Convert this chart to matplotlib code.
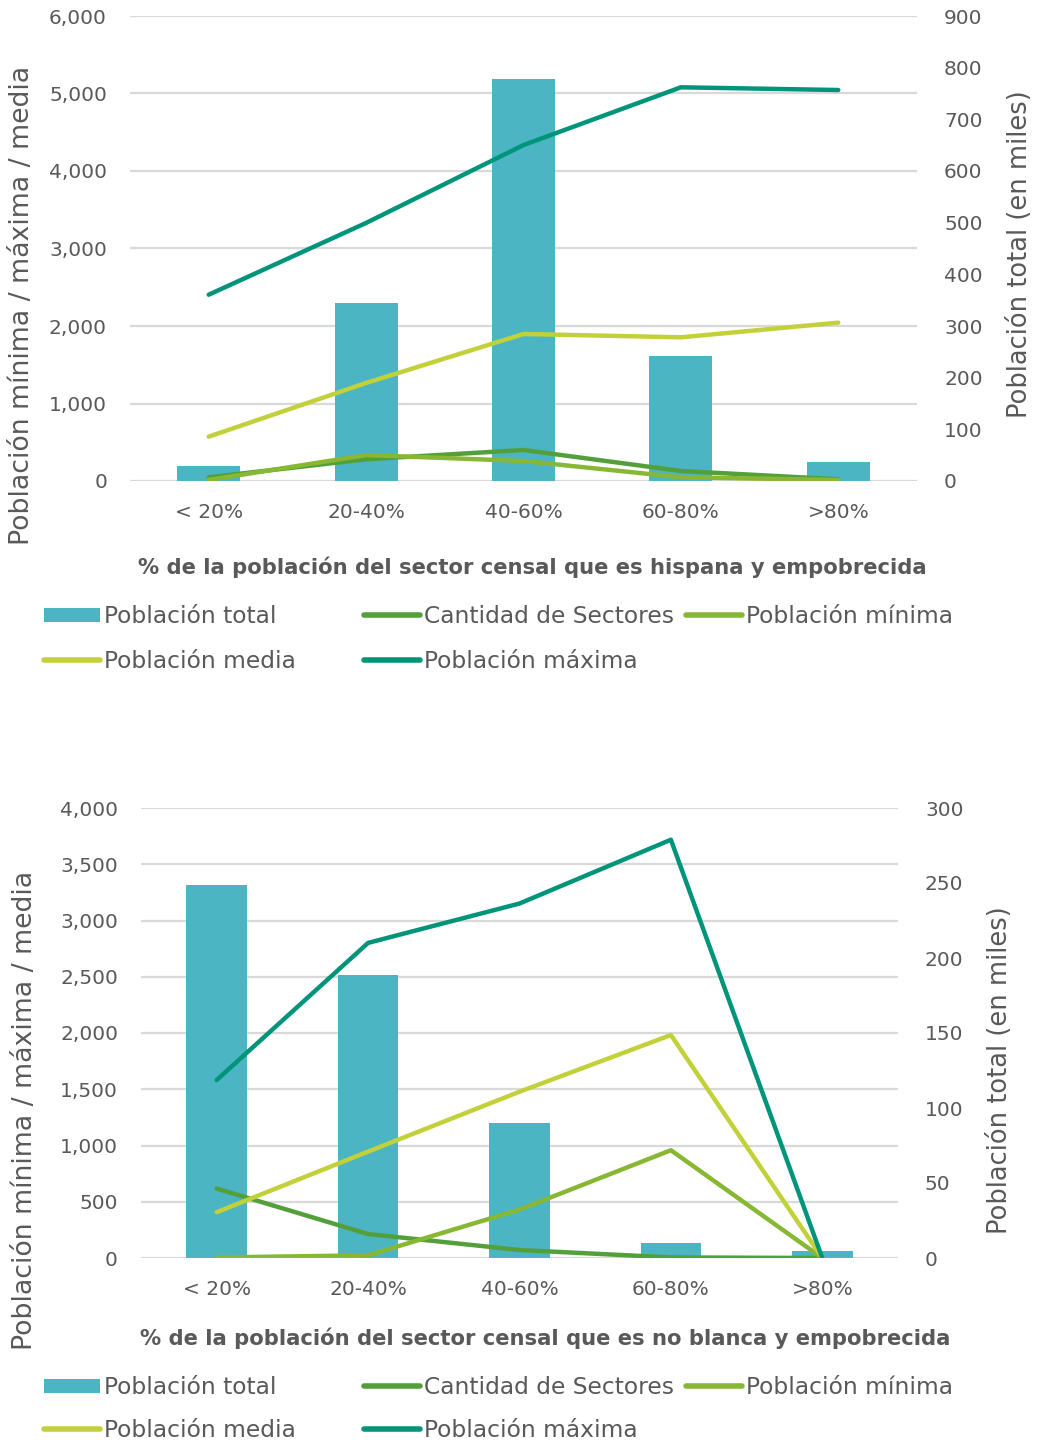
import matplotlib
matplotlib.use("Agg")
import matplotlib.pyplot as plt
from matplotlib.lines import Line2D
from matplotlib.patches import Patch

# Categories (share of the census tract population)
categorias = ['< 20%', '20-40%', '40-60%', '60-80%', '>80%']

# Chart 1: Hispanic and impoverished
total_hisp = [29, 345, 778, 242, 37]            # thousands
sectores_hisp = [48, 280, 400, 129, 22]
minima_hisp = [13, 335, 258, 48, 13]
media_hisp = [572, 1265, 1897, 1854, 2043]
maxima_hisp = [2404, 3330, 4335, 5080, 5045]

# Chart 2: non-white and impoverished
total_nb = [249, 189, 90, 10, 5]                # thousands
sectores_nb = [617, 213, 71, 5, 0]
minima_nb = [5, 24, 430, 958, 0]
media_nb = [407, 946, 1478, 1982, 0]
maxima_nb = [1582, 2801, 3151, 3718, 0]

left_ticks_1 = [0, 1000, 2000, 3000, 4000, 5000, 6000]
right_ticks_1 = list(range(0, 901, 100))
left_ticks_2 = list(range(0, 4001, 500))
right_ticks_2 = list(range(0, 301, 50))

C_BAR = '#4BB5C4'
C_SECT = '#53A03A'
C_MIN = '#88B833'
C_MED = '#C2D13A'
C_MAX = '#00957A'
C_TEXT = '#595959'
C_GRID = '#D9D9D9'

plt.rcParams['font.family'] = ['DejaVu Sans']

W, H = 1039, 1445
PT = 0.72  # points per pixel at 100 dpi
fig = plt.figure(figsize=(W / 100, H / 100), dpi=100)


def px_axes(x0, x1, ytop, ybot):
    return fig.add_axes([x0 / W, 1 - ybot / H, (x1 - x0) / W, (ybot - ytop) / H])


def draw_chart(box, total, sect, mn, med, mx, lticks, rticks, xtitle,
               ylab_pos, rlab_pos, xtitle_y, legend_rows):
    ax2 = px_axes(*box)
    ax = ax2.twinx()
    ax.yaxis.tick_left()
    ax2.yaxis.tick_right()
    ax.set_zorder(ax2.get_zorder() + 1)
    ax.patch.set_visible(False)

    x = list(range(len(categorias)))
    ax2.bar(x, total, width=0.4, color=C_BAR, zorder=2)
    for vals, col in [(sect, C_SECT), (mn, C_MIN), (med, C_MED), (mx, C_MAX)]:
        ax.plot(x, vals, color=col, lw=3.2, solid_capstyle='round',
                solid_joinstyle='round')

    ax2.set_xlim(-0.5, len(categorias) - 0.5)
    ax.set_ylim(lticks[0], lticks[-1])
    ax2.set_ylim(rticks[0], rticks[-1])
    ax.set_yticks(lticks)
    ax.set_yticklabels([f'{v:,}' for v in lticks])
    ax2.set_yticks(rticks)
    ax2.set_yticklabels([str(v) for v in rticks])
    ax2.set_xticks(x)
    ax2.set_xticklabels(categorias)

    for a in (ax, ax2):
        for s in a.spines.values():
            s.set_visible(False)
        a.tick_params(length=0, labelsize=14.5, labelcolor=C_TEXT, pad=23 * PT)
    ax2.tick_params(axis='y', pad=27 * PT)
    ax2.tick_params(axis='x', pad=22 * PT)

    # Horizontal gridlines follow the left-axis ticks, drawn behind the bars
    scale = rticks[-1] / lticks[-1]
    for v in lticks:
        ax2.axhline(v * scale, color=C_GRID, lw=1.6, zorder=0)

    fig.text(ylab_pos[0] / W, 1 - ylab_pos[1] / H,
             'Población mínima / máxima / media', rotation=90,
             ha='center', va='center', fontsize=19.3, color=C_TEXT)
    fig.text(rlab_pos[0] / W, 1 - rlab_pos[1] / H,
             'Población total (en miles)', rotation=90,
             ha='center', va='center', fontsize=18.5, color=C_TEXT)
    fig.text(xtitle[1] / W, 1 - xtitle_y / H, xtitle[0],
             ha='center', va='center', fontsize=15.2, fontweight='bold',
             color=C_TEXT)

    # Legend laid out as three fixed-width columns
    row1, row2 = legend_rows
    h_tot = Patch(facecolor=C_BAR, edgecolor='none')
    line = lambda c: Line2D([], [], color=c, lw=4, solid_capstyle='round')
    columns = [
        (44, [(h_tot, 'Población total'), (line(C_MED), 'Población media')]),
        (364, [(line(C_SECT), 'Cantidad de Sectores'),
               (line(C_MAX), 'Población máxima')]),
        (686, [(line(C_MIN), 'Población mínima')]),
    ]
    fs = 16.8
    fpx = fs / PT
    for xcol, items in columns:
        leg = fig.legend([h for h, _ in items], [t for _, t in items],
                         loc='upper left',
                         bbox_to_anchor=(xcol / W, 1 - (row1 - 11) / H),
                         frameon=False, fontsize=fs, handlelength=56 / fpx,
                         handleheight=0.55, handletextpad=4 / fpx,
                         borderpad=0, borderaxespad=0,
                         labelspacing=((row2 - row1) - fpx * 0.95) / fpx)
        for t in leg.get_texts():
            t.set_color(C_TEXT)


draw_chart((130, 917, 16, 481), total_hisp, sectores_hisp, minima_hisp,
           media_hisp, maxima_hisp, left_ticks_1, right_ticks_1,
           ('% de la población del sector censal que es hispana y empobrecida', 532),
           (22, 305), (1020, 254), 567, (616, 660))

draw_chart((141, 898, 808, 1258), total_nb, sectores_nb, minima_nb,
           media_nb, maxima_nb, left_ticks_2, right_ticks_2,
           ('% de la población del sector censal que es no blanca y empobrecida', 545),
           (25, 1110), (1000, 1070), 1338, (1387, 1429))

fig.savefig('out.png', dpi=100)
